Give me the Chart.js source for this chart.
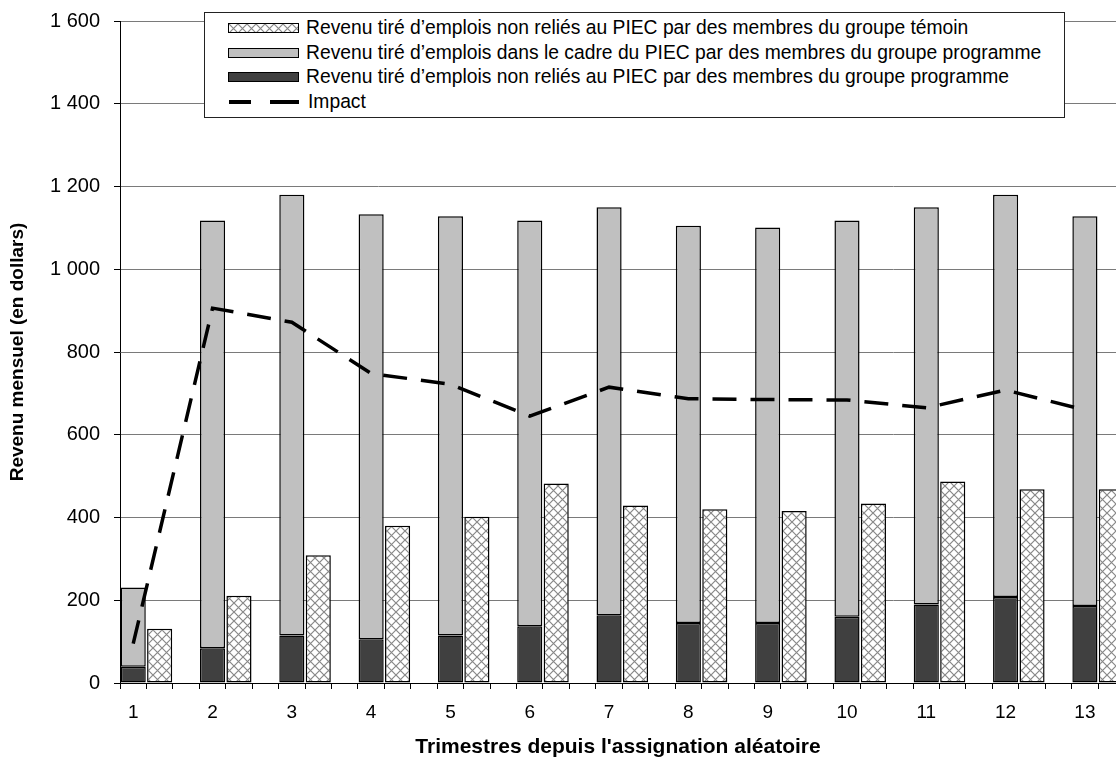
<!DOCTYPE html>
<html lang="fr">
<head>
<meta charset="UTF-8">
<script src="https://cdn.jsdelivr.net/npm/chart.js"></script>
<title>Revenu mensuel</title>
<style>
  body { margin: 0; overflow: hidden; background: #fff; font-family: "Liberation Sans", Arial, sans-serif; }
  #wrap { position: relative; width: 1151px; height: 761px; }
  #legend {
    position: absolute; left: 204px; top: 12px; width: 861px; height: 106px;
    border: 1px solid #222; background: #fff; box-sizing: border-box;
  }
  .item { position: absolute; left: 23px; height: 24px; display: flex; align-items: center; font-size: 19.3px; color: #000; white-space: nowrap; }
  .sw { width: 69px; height: 8px; border: 1.5px solid #000; margin-right: 7px; }
  .dash { width: 72px; height: 4px; margin-right: 7px; margin-left: 1px;
    background: linear-gradient(to right, #000 0 22px, transparent 22px 41px, #000 41px 70px, transparent 70px); }
</style>
</head>
<body>
<div id="wrap">
  <canvas id="chart"></canvas>
  <div id="legend"></div>
</div>
<script>
// quarters since random assignment
const quarters = ['1', '2', '3', '4', '5', '6', '7', '8', '9', '10', '11', '12', '13'];
// control group, non-PIEC earnings
const controlEarnings = [131, 211, 309, 380, 402, 482, 429, 420, 416, 434, 487, 468, 468];
// program group, PIEC earnings
const programPiec = [192, 1034, 1065, 1027, 1013, 981, 986, 960, 956, 958, 960, 972, 942];
// program group, non-PIEC earnings
const programNonPiec = [39, 84, 115, 106, 115, 137, 164, 145, 145, 160, 190, 208, 186];
// impact
const impact = [95, 906, 872, 748, 722, 645, 715, 687, 685, 684, 665, 708, 660];

const yTicks = [0, 200, 400, 600, 800, 1000, 1200, 1400, 1600];

const labelControl = 'Revenu tiré d\u2019emplois non reliés au PIEC par des membres du groupe témoin';
const labelPiec = 'Revenu tiré d\u2019emplois dans le cadre du PIEC par des membres du groupe programme';
const labelNonPiec = 'Revenu tiré d\u2019emplois non reliés au PIEC par des membres du groupe programme';
const labelImpact = 'Impact';

// each quarter takes three slots: program bar, control bar, gap
function spread(values, slot) {
    const out = [];
    values.forEach(v => {
        for (let s = 0; s < 3; s++) out.push(s === slot ? v : null);
    });
    return out;
}
const slotLabels = [];
quarters.forEach(q => slotLabels.push(q, '', ''));

// cross-hatch pattern
function makeHatch() {
    const c = document.createElement('canvas');
    c.width = 9; c.height = 9;
    const g = c.getContext('2d');
    g.fillStyle = '#fff';
    g.fillRect(0, 0, 9, 9);
    g.strokeStyle = '#888';
    g.lineWidth = 1.2;
    g.beginPath();
    g.moveTo(-2, -2); g.lineTo(11, 11);
    g.moveTo(11, -2); g.lineTo(-2, 11);
    g.stroke();
    return c;
}
const hatchCanvas = makeHatch();
const ctx = document.getElementById('chart').getContext('2d');
const hatch = ctx.createPattern(hatchCanvas, 'repeat');

const font = "'Liberation Sans', Arial, sans-serif";

const xTitle = {
    id: 'xTitle',
    afterDraw(chart) {
        const c = chart.ctx;
        c.save();
        c.font = 'bold 21px ' + font;
        c.fillStyle = '#000';
        c.textAlign = 'center';
        c.textBaseline = 'alphabetic';
        c.fillText("Trimestres depuis l'assignation aléatoire", 618, 753);
        c.restore();
    }
};

const barBase = {
    type: 'bar',
    stack: 'a',
    borderColor: '#000',
    borderWidth: 1.5,
    borderSkipped: false,
    barPercentage: 0.95,
    categoryPercentage: 1,
    order: 1
};

const chart = new Chart(ctx, {
    data: {
        labels: slotLabels,
        datasets: [
            Object.assign({}, barBase, { label: labelNonPiec, data: spread(programNonPiec, 0), backgroundColor: '#404040' }),
            Object.assign({}, barBase, { label: labelPiec, data: spread(programPiec, 0), backgroundColor: '#c0c0c0' }),
            Object.assign({}, barBase, { label: labelControl, data: spread(controlEarnings, 1), backgroundColor: hatch }),
            {
                type: 'line',
                label: labelImpact,
                data: spread(impact, 0),
                yAxisID: 'y2',
                spanGaps: true,
                borderColor: '#000',
                borderWidth: 3.5,
                borderDash: [24, 14],
                pointRadius: 0,
                fill: false,
                tension: 0,
                order: 0
            }
        ]
    },
    options: {
        responsive: true,
        maintainAspectRatio: false,
        animation: false,
        layout: { padding: { top: 21, right: 0, bottom: 0, left: 0 } },
        plugins: {
            legend: { display: false },
            tooltip: { enabled: false }
        },
        scales: {
            x: {
                stacked: true,
                offset: true,
                grid: { display: true, drawOnChartArea: false, offset: true, tickLength: 6, color: '#000' },
                border: { color: '#000', width: 1 },
                ticks: { autoSkip: false, maxRotation: 0, padding: 12, color: '#000', font: { family: font, size: 19 } },
                afterFit(scale) { scale.height = 78; }
            },
            y: {
                stacked: true,
                min: 0,
                max: 1600,
                afterBuildTicks(scale) { scale.ticks = yTicks.map(v => ({ value: v })); },
                grid: { color: '#7a7a7a', tickLength: 6, tickColor: '#000' },
                border: { color: '#000', width: 1 },
                ticks: {
                    padding: 14,
                    color: '#000',
                    font: { family: font, size: 20 },
                    callback: v => String(v).replace(/\B(?=(\d{3})+(?!\d))/g, ' ')
                },
                title: {
                    display: true,
                    text: 'Revenu mensuel (en dollars)',
                    color: '#000',
                    font: { family: font, size: 19, weight: 'bold' },
                    padding: { top: 6, bottom: 0 }
                },
                afterFit(scale) {
                    scale.width = 120;
                    // label padding would otherwise push the plot top down
                    scale.paddingTop = 0;
                    scale.paddingBottom = 0;
                }
            },
            y2: { display: false, min: 0, max: 1600 }
        }
    },
    plugins: [xTitle]
});

// legend box, built from the datasets
const legend = document.getElementById('legend');
const legendOrder = [2, 1, 0, 3];
legendOrder.forEach((idx, row) => {
    const ds = chart.data.datasets[idx];
    const item = document.createElement('div');
    item.className = 'item';
    item.style.top = (3 + row * 24.5) + 'px';
    const sw = document.createElement('span');
    if (ds.type === 'line') {
        sw.className = 'dash';
    } else {
        sw.className = 'sw';
        if (idx === 2) {
            sw.style.backgroundImage = 'url(' + hatchCanvas.toDataURL() + ')';
        } else {
            sw.style.background = ds.backgroundColor;
        }
    }
    const txt = document.createElement('span');
    txt.textContent = ds.label;
    item.appendChild(sw);
    item.appendChild(txt);
    legend.appendChild(item);
});
</script>
</body>
</html>
